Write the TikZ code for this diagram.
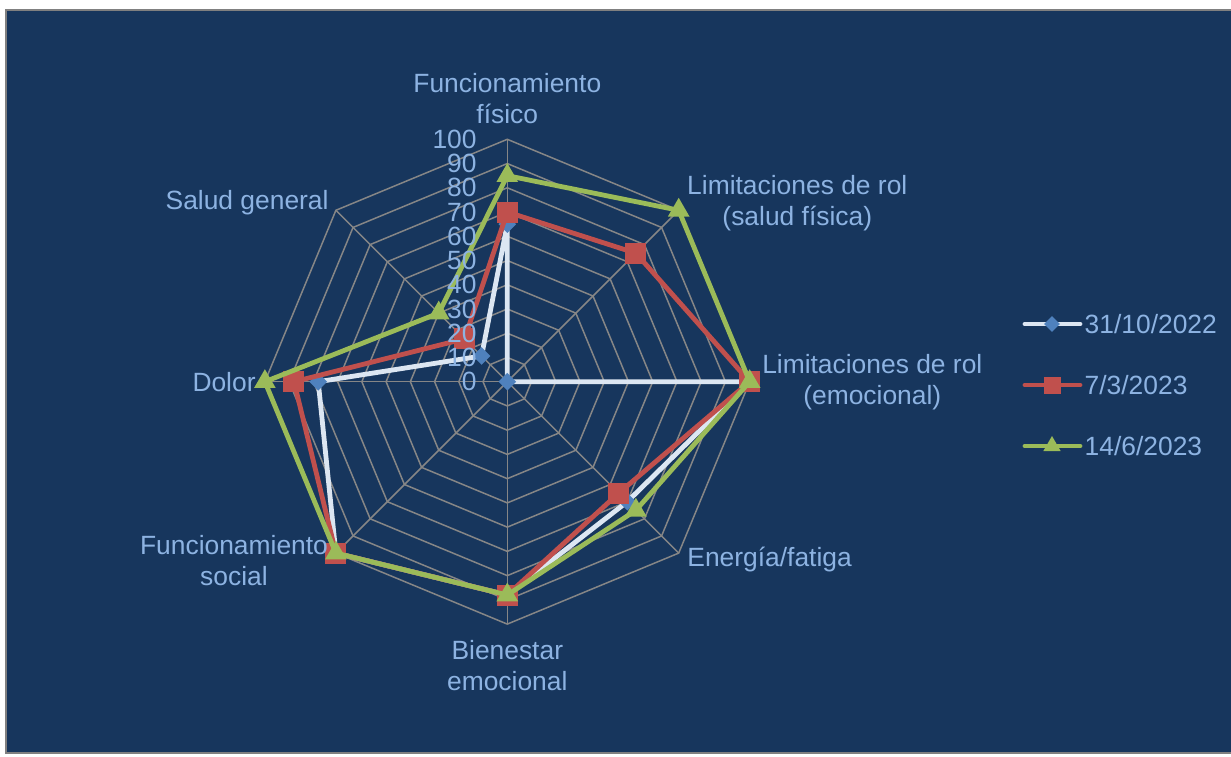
\documentclass[tikz,border=0pt]{standalone}
\usepackage{fontspec}
\setmainfont{Liberation Sans}
\usetikzlibrary{shapes.geometric}

\begin{document}
\begin{tikzpicture}[x=0.5pt, y=0.5pt,
    lbl/.style={text=axistext, font=\fontsize{13.2}{15.5}\selectfont, inner sep=0pt},
    gridline/.style={draw=gridgray, line width=0.75pt},
    serieline/.style={line width=2.4pt, line join=round},
    dmd/.style={diamond, fill=s1mark, inner sep=0pt, minimum width=9pt, minimum height=9pt},
    sqr/.style={rectangle, fill=s2red, inner sep=0pt, minimum size=10.5pt},
    tri/.style={regular polygon, regular polygon sides=3, fill=s3green, inner sep=0pt, minimum size=12.5pt}]

            % Define colors
            \definecolor{bgblue}{RGB}{23,54,93}
            \definecolor{axistext}{RGB}{141,179,226}
            \definecolor{gridgray}{RGB}{134,134,134}
            \definecolor{s1line}{RGB}{220,230,242}
            \definecolor{s1mark}{RGB}{79,129,189}
            \definecolor{s2red}{RGB}{192,80,77}
            \definecolor{s3green}{RGB}{155,187,89}

            % Page and panel
            \useasboundingbox (-507.3,-374.3) rectangle (723.7,381.7);
            \fill[white] (-507.3,-374.3) rectangle (723.7,381.7);
            \fill[bgblue] (-500.8,-371) rectangle (730,371.2);
            \draw[gray, line width=1pt] (730,-371) -- (-500.8,-371) -- (-500.8,371.2) -- (730,371.2);

            \begin{scope}[x=1.212pt, y=1.212pt]
            % Rings and spokes (0 to 100)
            \foreach \r in {10,20,...,100}
                \draw[gridline] (90:\r) -- (45:\r) -- (0:\r) -- (-45:\r) -- (-90:\r) -- (-135:\r) -- (180:\r) -- (135:\r) -- cycle;
            \foreach \a in {0,45,...,315}
                \draw[gridline] (0,0) -- (\a:100);

            % Series 31/10/2022
            \draw[serieline, s1line] (90:65) -- (45:0) -- (0:100) -- (-45:70) -- (-90:88) -- (-135:100) -- (180:78) -- (135:15) -- cycle;
            \foreach \a/\v [count=\i] in {90/65, 45/0, 0/100, -45/70, -90/88, -135/100, 180/78, 135/15}
                \node[dmd] (one\i) at (\a:\v) {};

            % Series 7/3/2023
            \draw[serieline, s2red] (90:70) -- (45:75) -- (0:100) -- (-45:65) -- (-90:88) -- (-135:100) -- (180:88) -- (135:25) -- cycle;
            \foreach \a/\v [count=\i] in {90/70, 45/75, 0/100, -45/65, -90/88, -135/100, 180/88, 135/25}
                \node[sqr] (two\i) at (\a:\v) {};

            % Series 14/6/2023
            \draw[serieline, s3green] (90:85) -- (45:100) -- (0:100) -- (-45:75) -- (-90:88) -- (-135:100) -- (180:100) -- (135:40) -- cycle;
            \foreach \a/\v [count=\i] in {90/85, 45/100, 0/100, -45/75, -90/88, -135/100, 180/100, 135/40}
                \node[tri] (three\i) at (\a:\v) {};

            % Scale labels (on top of the series)
            \foreach \v in {0,10,...,100}
                \node[lbl, anchor=east] (tick\v) at (-12.5,\v) {\v};
            \end{scope}

            % Axis labels
            \node[lbl, align=center] (ffis) at (0,283) {Funcionamiento\\físico};
            \node[lbl, align=center] (lsal) at (290,178.2) {Limitaciones de rol\\(salud física)};
            \node[lbl, align=center] (lemo) at (365,0) {Limitaciones de rol\\(emocional)};
            \node[lbl, anchor=west] (ener) at (179.7,-178.3) {Energía/fatiga};
            \node[lbl, align=center] (bien) at (0,-283.8) {Bienestar\\emocional};
            \node[lbl, align=center] (fsoc) at (-273.3,-179.3) {Funcionamiento\\social};
            \node[lbl, anchor=east] (dolor) at (-251.3,0) {Dolor};
            \node[lbl, anchor=east] (salud) at (-178.3,178.7) {Salud general};

            % Legend
            \draw[serieline, s1line, line cap=round] (517.7,57.7) -- (572.7,57.7);
            \node[dmd, minimum width=8pt, minimum height=8pt] (leg1) at (544.7,57.7) {};
            \node[lbl, anchor=west] (legtxt1) at (577,57.7) {31/10/2022};
            \draw[serieline, s2red, line cap=round] (517.7,-3.3) -- (572.7,-3.3);
            \node[sqr, minimum size=8.5pt] (leg2) at (544.7,-3.3) {};
            \node[lbl, anchor=west] (legtxt2) at (577,-3.3) {7/3/2023};
            \draw[serieline, s3green, line cap=round] (517.7,-64.3) -- (572.7,-64.3);
            \node[tri, minimum size=10pt] (leg3) at (544.7,-64.3) {};
            \node[lbl, anchor=west] (legtxt3) at (577,-64.3) {14/6/2023};

\end{tikzpicture}
\end{document}
